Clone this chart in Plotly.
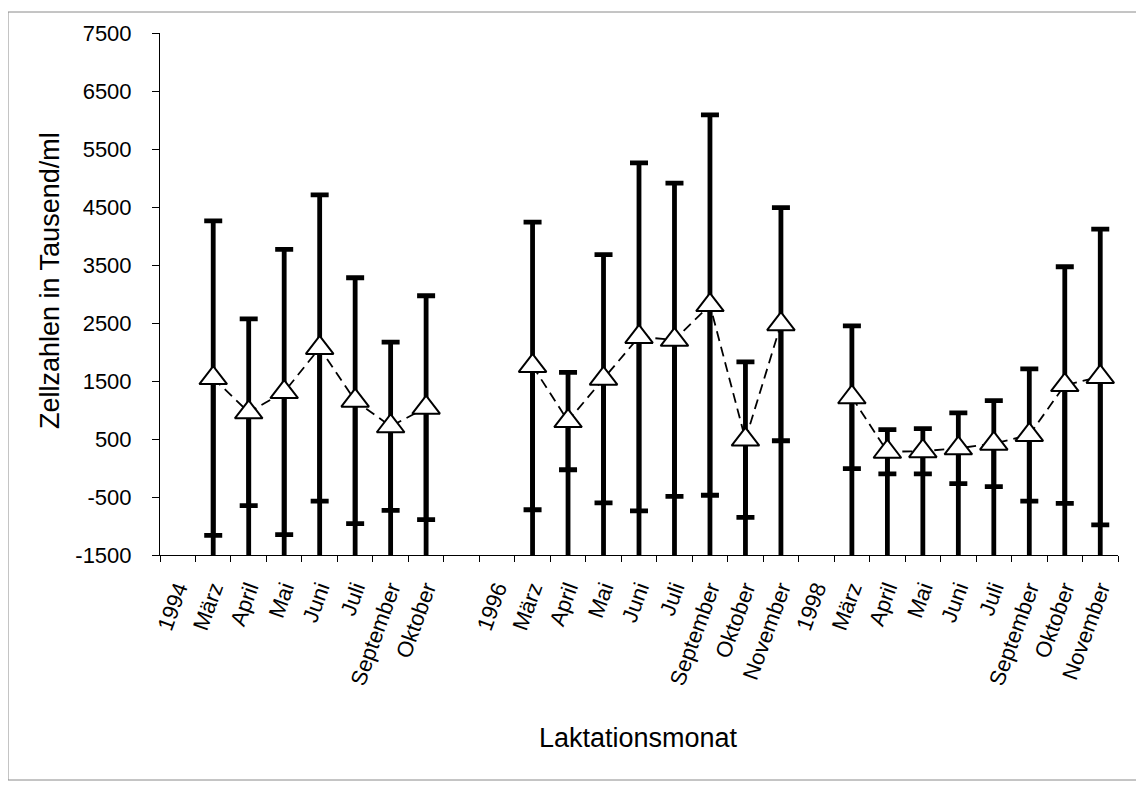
import plotly.graph_objects as go

# ---- data ----
labels = ["1994", "März", "April", "Mai", "Juni", "Juli", "September", "Oktober", "",
          "1996", "März", "April", "Mai", "Juni", "Juli", "September", "Oktober", "November",
          "1998", "März", "April", "Mai", "Juni", "Juli", "September", "Oktober", "November"]

means = [None, 1550, 960, 1310, 2070, 1160, 720, 1040, None,
         None, 1760, 810, 1540, 2260, 2210, 2810, 490, 2480,
         None, 1220, 280, 290, 340, 420, 570, 1430, 1570]

sds = [None, 2710, 1610, 2460, 2640, 2120, 1450, 1930, None,
       None, 2480, 840, 2140, 3000, 2700, 3280, 1340, 2010,
       None, 1230, 380, 390, 610, 740, 1140, 2040, 2550]

y_ticks = [-1500, -500, 500, 1500, 2500, 3500, 4500, 5500, 6500, 7500]
Y_MIN, Y_MAX = -1500, 7500

# ---- derived ----
x = list(range(len(labels)))
drop_minus = [None if m is None else m - Y_MIN for m in means]
drop_plus = [None if m is None else 0 for m in means]

FONT = "Liberation Sans, Arial, sans-serif"

fig = go.Figure()

# dashed connecting line
fig.add_trace(go.Scatter(
    x=x, y=means, mode="lines", connectgaps=False,
    line=dict(color="black", width=1.8, dash="10px,6px"),
    hoverinfo="skip"))

# drop lines from each mean down to the category axis
fig.add_trace(go.Scatter(
    x=x, y=means, mode="markers",
    marker=dict(size=1, color="rgba(0,0,0,0)"),
    error_y=dict(type="data", symmetric=False, array=drop_plus, arrayminus=drop_minus,
                 width=0, thickness=4.8, color="black"),
    hoverinfo="skip"))

# +/- SD error bars
fig.add_trace(go.Scatter(
    x=x, y=means, mode="markers",
    marker=dict(size=1, color="rgba(0,0,0,0)"),
    error_y=dict(type="data", array=sds, width=9, thickness=4.8, color="black"),
    hoverinfo="skip"))

# open triangle markers
fig.add_trace(go.Scatter(
    x=x, y=means, mode="markers",
    marker=dict(symbol="triangle-up", size=24, color="white",
                line=dict(color="black", width=2)),
    hoverinfo="skip"))

OFF = 8  # page body margin
W, H = 1144, 789
L, T = 160 - OFF, 33 - OFF
R = W - (1118 - OFF)
B = H - (555 - OFF)
pw, ph = W - L - R, H - T - B

def px_x(p):
    return (p - OFF - L) / pw

def px_y(p):
    return 1 - (p - OFF - T) / ph

fig.update_layout(
    width=W, height=H, autosize=False,
    margin=dict(l=L, r=R, t=T, b=B, pad=0),
    paper_bgcolor="white", plot_bgcolor="white",
    showlegend=False, hovermode=False,
    font=dict(family=FONT, color="black", size=21),
    xaxis=dict(
        range=[-0.5, len(labels) - 0.5],
        tickmode="array", tickvals=x, ticktext=labels,
        tickangle=-70, ticks="", ticklabelstandoff=11,
        tickfont=dict(family=FONT, size=22, color="black"),
        showline=True, linecolor="black", linewidth=1,
        showgrid=False, zeroline=False,
        minor=dict(tickmode="array",
                   tickvals=[i - 0.5 for i in range(len(labels) + 1)],
                   ticks="outside", ticklen=6, tickwidth=1, tickcolor="black",
                   showgrid=False),
    ),
    yaxis=dict(
        range=[Y_MIN, Y_MAX],
        tickmode="array", tickvals=y_ticks, ticktext=[str(v) for v in y_ticks],
        ticks="outside", ticklen=7, tickwidth=1, tickcolor="black",
        ticklabelstandoff=16,
        tickfont=dict(family=FONT, size=22, color="black"),
        showline=True, linecolor="black", linewidth=1,
        showgrid=False, zeroline=False,
    ),
    annotations=[
        dict(text="Zellzahlen in Tausend/ml", xref="paper", yref="paper",
             x=px_x(50), y=px_y(281), xanchor="center", yanchor="middle",
             textangle=-90, showarrow=False,
             font=dict(family=FONT, size=27, color="black")),
        dict(text="Laktationsmonat", xref="paper", yref="paper",
             x=px_x(638), y=px_y(738), xanchor="center", yanchor="middle",
             showarrow=False, font=dict(family=FONT, size=27, color="black")),
    ],
    shapes=[
        dict(type="rect", xref="paper", yref="paper",
             x0=px_x(8), x1=px_x(1140), y0=px_y(780), y1=px_y(12),
             line=dict(color="#8a8a8a", width=1), fillcolor="rgba(0,0,0,0)",
             layer="below"),
    ],
)

fig.write_html("out.html")
